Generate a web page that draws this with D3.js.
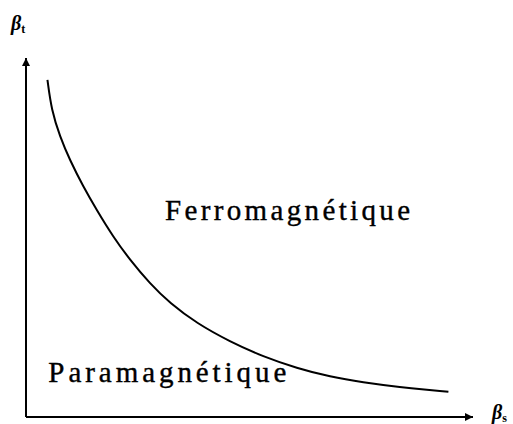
<!DOCTYPE html>
<html>
<head>
<meta charset="utf-8">
<script src="https://cdn.jsdelivr.net/npm/d3@7"></script>
<style>
  body { margin: 0; background: #fff; }
  svg { display: block; }
  .serif { font-family: "Liberation Serif", "Times New Roman", Times, "DejaVu Serif", serif; }
</style>
</head>
<body>
<svg id="fig" width="513" height="424"></svg>
<script>
// phase boundary, arbitrary units (beta_s, beta_t)
const curveX = [0.048, 0.057, 0.076, 0.098, 0.128, 0.158, 0.195, 0.233, 0.277, 0.322, 0.382, 0.456, 0.531, 0.606, 0.680, 0.755, 0.829, 0.945];
const curveY = [0.939, 0.855, 0.781, 0.716, 0.642, 0.577, 0.502, 0.437, 0.372, 0.317, 0.261, 0.210, 0.168, 0.136, 0.112, 0.096, 0.084, 0.070];

const regionNames = ["Ferromagnétique", "Paramagnétique"];
const regionX = [0.311, 0.050];   // left edge of label
const regionY = [0.549, 0.098];   // baseline
const regionW = [245, 238];

const xLabel = "β", xSub = "s";
const yLabel = "β", ySub = "t";

const svg = d3.select("#fig");
const x = d3.scaleLinear().domain([0, 1]).range([26, 473]);
const y = d3.scaleLinear().domain([0, 1]).range([417, 58]);

svg.append("defs").append("marker")
    .attr("id", "arrow")
    .attr("viewBox", "0 0 10 10")
    .attr("refX", 10).attr("refY", 5)
    .attr("markerUnits", "userSpaceOnUse")
    .attr("markerWidth", 11).attr("markerHeight", 8)
    .attr("orient", "auto")
  .append("path")
    .attr("d", "M0,0L10,5L0,10Z")
    .attr("fill", "#000");

// axes: bare lines with arrowheads
const gx = svg.append("g")
    .attr("transform", `translate(0,${y(0)})`)
    .call(d3.axisBottom(x).tickValues([]).tickSizeOuter(0));
const gy = svg.append("g")
    .attr("transform", `translate(${x(0)},0)`)
    .call(d3.axisLeft(y).tickValues([]).tickSizeOuter(0));
[gx, gy].forEach(g => {
    g.select(".domain")
      .attr("stroke", "#000")
      .attr("stroke-width", 2)
      .attr("marker-end", "url(#arrow)");
});
// make the arrow point away from the origin
gy.select(".domain").attr("d", `M0,${y(0)}V${y(1)}`);
gx.select(".domain").attr("d", `M${x(0)},0H${x(1)}`);

const pts = curveX.map((d, i) => [d, curveY[i]]);
svg.append("path")
    .datum(pts)
    .attr("fill", "none")
    .attr("stroke", "#000")
    .attr("stroke-width", 2)
    .attr("d", d3.line()
        .x(d => x(d[0]))
        .y(d => y(d[1]))
        .curve(d3.curveBasis));

regionNames.forEach((name, i) => {
    svg.append("text")
        .attr("class", "serif")
        .attr("x", x(regionX[i]))
        .attr("y", y(regionY[i]))
        .attr("textLength", regionW[i])
        .attr("lengthAdjust", "spacing")
        .attr("font-size", 29)
        .attr("fill", "#000")
        .attr("stroke", "#000")
        .attr("stroke-width", 0.4)
        .text(name);
});

function axisLabel(px, py, main, sub){
    const t = svg.append("text")
        .attr("class", "serif")
        .attr("x", px).attr("y", py)
        .attr("font-style", "italic")
        .attr("font-weight", "bold")
        .attr("font-size", 20)
        .attr("fill", "#000");
    t.append("tspan").text(main);
    t.append("tspan")
        .attr("dy", 3)
        .attr("font-size", 12)
        .attr("font-style", "normal")
        .text(sub);
}
axisLabel(11, 30, yLabel, ySub);
axisLabel(492, 419, xLabel, xSub);
</script>
</body>
</html>
